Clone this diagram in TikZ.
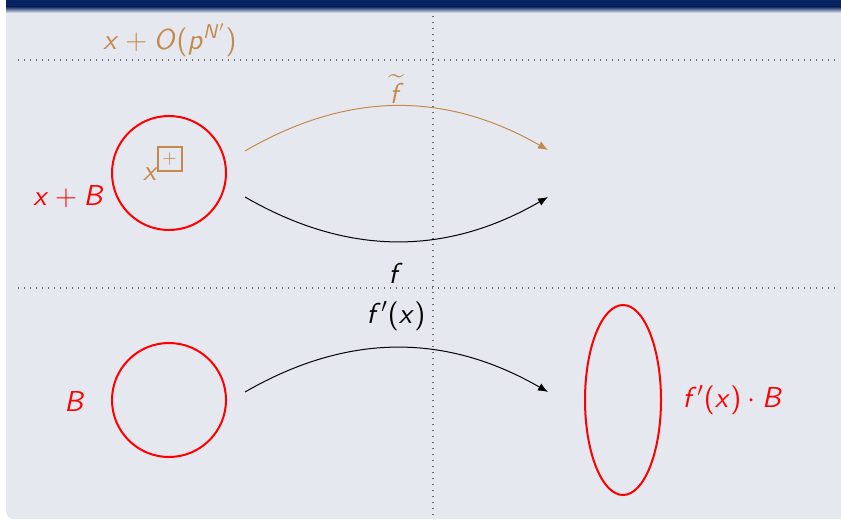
\documentclass[tikz,border=0pt]{standalone}
\usepackage{amsmath,amssymb}
\usepackage{tikz}
\usetikzlibrary{arrows.meta,positioning,shapes.geometric}
\DeclareSymbolFont{operators}{OT1}{cmss}{m}{n}
\DeclareSymbolFont{letters}{OT1}{cmss}{m}{sl}
\definecolor{navybar}{RGB}{8,36,96}
\definecolor{blockbg}{RGB}{230,232,239}
\definecolor{nbhd}{RGB}{196,137,76}
\definecolor{gridgray}{RGB}{105,105,105}

\begin{document}
\begin{tikzpicture}[x=0.5pt,y=0.5pt,>={Latex[length=5pt,width=4pt]},
  every node/.style={font=\fontsize{14.5}{17}\selectfont},
  ball/.style={draw=red,line width=1pt,circle,minimum size=57pt,inner sep=0pt},
  blob/.style={draw=red,line width=1pt,ellipse,minimum width=38pt,minimum height=95pt,inner sep=0pt},
  sep/.style={gridgray,line width=.7pt,dash pattern=on .7pt off 2.3pt},
  map/.style={->,line width=.5pt,bend left=30}]
\useasboundingbox (0,0) rectangle (841,521);
% block body and title bar
\fill[blockbg] (841,515) -- (6,515) [rounded corners=4pt]-- (6,2) [sharp corners]-- (841,2) -- cycle;
\fill[navybar] (6,514) rectangle (841,521);
\shade[top color=navybar,bottom color=blockbg] (6,508) rectangle (841,514.5);
% dotted guides
\draw[sep] (433,6) -- (433,507);
\draw[sep] (18,461) -- (838,461);
\draw[sep] (18,233) -- (838,233);

% balls
\node[ball] (ball) at (169,348) {};
\node[ball] (unit) at (169,121) {};
\node[blob] (image) at (623,121) {};
\node[draw=nbhd,line width=1pt,text=nbhd,minimum size=12pt,inner sep=0pt,
  font=\fontsize{9.5}{10}\selectfont] (box) at (169.5,362.5) {$+$};
\node[text=nbhd] (pt) at (151,347) {$x$};

% labels
\node[text=nbhd] (nbhdlbl) at (170,481) {$x+O(p^{N'})$};
\node[text=red] (balllbl) at (69,324) {$x+B$};
\node[text=red] (unitlbl) at (75,120) {$B$};
\node[text=red] (imagelbl) at (733,121) {$f'(x)\cdot B$};

% maps
\coordinate (tfs) at (245,370);
\coordinate (tfe) at (548,371);
\coordinate (fs) at (245,324);
\coordinate (fe) at (548,324);
\coordinate (ds) at (245,129);
\coordinate (de) at (548,129);
\draw[map,nbhd] (tfs) to (tfe);
\draw[map,bend right=30] (fs) to (fe);
\draw[map] (ds) to (de);
\node[text=nbhd] (tflbl) at (397,432) {$\widetilde{f}$};
\node (flbl) at (396,248) {$f$};
\node (dflbl) at (396,205) {$f'(x)$};
\end{tikzpicture}
\end{document}
